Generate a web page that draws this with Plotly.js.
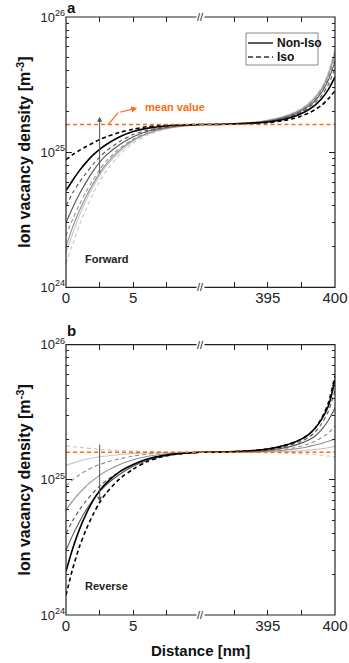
<!DOCTYPE html>
<html>
<head>
<meta charset="utf-8">
<script src="https://cdn.plot.ly/plotly-3.0.1.min.js"></script>
<style>
  html, body { margin: 0; padding: 0; background: #fff; }
  #plot { width: 349px; height: 663px; }
</style>
</head>
<body>
<div id="plot"></div>
<script>
// distance samples [nm] on both sides of the axis break
const xLeft = [0, 0.5, 1, 1.5, 2, 2.5, 3, 4, 5, 6, 7, 8, 10];
const xRight = [390, 392, 394, 395, 396, 397, 397.5, 398, 398.5, 399, 399.5, 400];

// all densities below in units of 10^25 m^-3
const meanValue = 1.6;

// (a) forward, left side
const fwdBlackIsoL    = [0.88, 0.96, 1.03, 1.10, 1.17, 1.24, 1.30, 1.40, 1.48, 1.54, 1.57, 1.59, 1.6];
const fwdBlackNonL    = [0.52, 0.62, 0.73, 0.84, 0.95, 1.05, 1.14, 1.30, 1.42, 1.50, 1.55, 1.58, 1.6];
const fwdDarkIsoL     = [0.40, 0.50, 0.60, 0.70, 0.81, 0.92, 1.02, 1.20, 1.35, 1.45, 1.52, 1.56, 1.6];
const fwdDarkNonL     = [0.30, 0.39, 0.49, 0.60, 0.72, 0.84, 0.95, 1.14, 1.30, 1.42, 1.50, 1.55, 1.6];
const fwdMidIsoL      = [0.24, 0.32, 0.41, 0.51, 0.62, 0.74, 0.86, 1.07, 1.25, 1.39, 1.48, 1.54, 1.6];
const fwdMidNonL      = [0.20, 0.28, 0.37, 0.47, 0.58, 0.70, 0.82, 1.04, 1.23, 1.37, 1.47, 1.53, 1.6];
const fwdLightNonL    = [0.18, 0.25, 0.34, 0.44, 0.55, 0.67, 0.79, 1.01, 1.21, 1.36, 1.46, 1.53, 1.6];
const fwdLightIsoL    = [0.15, 0.21, 0.29, 0.38, 0.49, 0.61, 0.73, 0.96, 1.17, 1.33, 1.44, 1.52, 1.6];

// (a) forward, right side
const fwdBlackIsoR    = [1.6, 1.61, 1.63, 1.65, 1.70, 1.78, 1.85, 1.94, 2.06, 2.22, 2.48, 2.85];
const fwdBlackNonR    = [1.6, 1.61, 1.64, 1.67, 1.73, 1.84, 1.93, 2.05, 2.22, 2.48, 2.90, 3.6];
const fwdDarkIsoR     = [1.6, 1.61, 1.64, 1.68, 1.75, 1.88, 1.98, 2.12, 2.32, 2.62, 3.15, 4.2];
const fwdDarkNonR     = [1.6, 1.61, 1.65, 1.69, 1.77, 1.91, 2.02, 2.17, 2.40, 2.75, 3.40, 4.7];
const fwdMidIsoR      = [1.6, 1.61, 1.65, 1.70, 1.78, 1.93, 2.05, 2.21, 2.45, 2.83, 3.55, 5.1];
const fwdMidNonR      = [1.6, 1.61, 1.66, 1.71, 1.80, 1.95, 2.07, 2.24, 2.50, 2.90, 3.70, 5.4];
const fwdLightNonR    = [1.6, 1.62, 1.66, 1.72, 1.81, 1.97, 2.09, 2.27, 2.54, 2.96, 3.80, 5.7];
const fwdLightIsoR    = [1.6, 1.62, 1.67, 1.73, 1.82, 1.98, 2.11, 2.30, 2.58, 3.02, 3.90, 5.9];

// (b) reverse, left side
const revLightIsoL    = [1.78, 1.76, 1.74, 1.72, 1.70, 1.68, 1.67, 1.65, 1.63, 1.62, 1.61, 1.6, 1.6];
const revLightNonL    = [1.28, 1.33, 1.38, 1.42, 1.45, 1.48, 1.50, 1.54, 1.57, 1.58, 1.59, 1.6, 1.6];
const revMidIsoL      = [0.90, 1.00, 1.09, 1.17, 1.24, 1.30, 1.35, 1.43, 1.50, 1.55, 1.58, 1.59, 1.6];
const revMidNonL      = [0.60, 0.70, 0.80, 0.90, 0.99, 1.08, 1.16, 1.30, 1.41, 1.49, 1.54, 1.57, 1.6];
const revDarkIsoL     = [0.40, 0.50, 0.60, 0.70, 0.80, 0.90, 0.99, 1.15, 1.30, 1.42, 1.50, 1.55, 1.6];
const revDarkNonL     = [0.30, 0.39, 0.49, 0.60, 0.71, 0.82, 0.92, 1.10, 1.26, 1.39, 1.48, 1.54, 1.6];
const revBlackNonL    = [0.21, 0.31, 0.43, 0.56, 0.70, 0.83, 0.95, 1.15, 1.30, 1.42, 1.50, 1.55, 1.6];
const revBlackIsoL    = [0.14, 0.22, 0.32, 0.43, 0.55, 0.68, 0.80, 1.02, 1.20, 1.36, 1.47, 1.54, 1.6];

// (b) reverse, right side
const revLightIsoR    = [1.6, 1.6, 1.6, 1.59, 1.58, 1.57, 1.56, 1.55, 1.54, 1.52, 1.50, 1.48];
const revLightNonR    = [1.6, 1.6, 1.6, 1.61, 1.62, 1.63, 1.64, 1.66, 1.68, 1.70, 1.73, 1.77];
const revMidIsoR      = [1.6, 1.6, 1.62, 1.64, 1.67, 1.73, 1.78, 1.84, 1.93, 2.05, 2.22, 2.5];
const revMidNonR      = [1.6, 1.6, 1.61, 1.63, 1.65, 1.69, 1.72, 1.76, 1.81, 1.86, 1.93, 2.0];
const revDarkIsoR     = [1.6, 1.61, 1.64, 1.67, 1.74, 1.85, 1.93, 2.05, 2.25, 2.60, 3.20, 4.6];
const revDarkNonR     = [1.6, 1.61, 1.63, 1.66, 1.71, 1.80, 1.87, 1.96, 2.10, 2.35, 2.75, 3.4];
const revBlackNonR    = [1.6, 1.61, 1.65, 1.69, 1.77, 1.90, 2.00, 2.15, 2.40, 2.80, 3.50, 5.5];
const revBlackIsoR    = [1.6, 1.61, 1.65, 1.69, 1.77, 1.90, 2.00, 2.15, 2.40, 2.85, 3.70, 5.9];

const legendNames = ['Non-Iso', 'Iso'];

const UNIT = 1e25;
const ORANGE = '#ff6a13';
const FONT = 'Arial, "Liberation Sans", sans-serif';
const shade = { black: '#000000', dark: '#555555', mid: '#8f8f8f', light: '#c6c6c6' };
const ISO_DASH = '4px,3px';

// [left, right, colour, iso?]
const fwdCurves = [
  [fwdLightIsoL, fwdLightIsoR, shade.light, true],
  [fwdLightNonL, fwdLightNonR, shade.light, false],
  [fwdMidNonL, fwdMidNonR, shade.mid, false],
  [fwdMidIsoL, fwdMidIsoR, shade.mid, true],
  [fwdDarkNonL, fwdDarkNonR, shade.dark, false],
  [fwdDarkIsoL, fwdDarkIsoR, shade.dark, true],
  [fwdBlackNonL, fwdBlackNonR, shade.black, false],
  [fwdBlackIsoL, fwdBlackIsoR, shade.black, true]
];
const revCurves = [
  [revLightIsoL, revLightIsoR, shade.light, true],
  [revLightNonL, revLightNonR, shade.light, false],
  [revMidIsoL, revMidIsoR, shade.mid, true],
  [revMidNonL, revMidNonR, shade.mid, false],
  [revDarkIsoL, revDarkIsoR, shade.dark, true],
  [revDarkNonL, revDarkNonR, shade.dark, false],
  [revBlackNonL, revBlackNonR, shade.black, false],
  [revBlackIsoL, revBlackIsoR, shade.black, true]
];

const traces = [];

function addCurves (curves, xl, xr, ya) {
  curves.forEach(([left, right, color, iso]) => {
    const line = {
      color,
      width: color === shade.black ? 1.6 : 1.1,
      dash: iso ? ISO_DASH : 'solid',
      shape: 'spline',
      smoothing: 0.8
    };
    traces.push({ type: 'scatter', mode: 'lines', x: xLeft, y: left.map(v => v * UNIT), xaxis: xl, yaxis: ya, line, showlegend: false });
    traces.push({ type: 'scatter', mode: 'lines', x: xRight, y: right.map(v => v * UNIT), xaxis: xr, yaxis: ya, line, showlegend: false });
  });
  // mean value line across both segments
  const meanLine = { color: ORANGE, width: 1.5, dash: '4px,3px' };
  traces.push({ type: 'scatter', mode: 'lines', x: [0, 10], y: [meanValue * UNIT, meanValue * UNIT], xaxis: xl, yaxis: ya, line: meanLine, showlegend: false });
  traces.push({ type: 'scatter', mode: 'lines', x: [390, 400], y: [meanValue * UNIT, meanValue * UNIT], xaxis: xr, yaxis: ya, line: meanLine, showlegend: false });
}

addCurves(fwdCurves, 'x', 'x2', 'y');
addCurves(revCurves, 'x3', 'x4', 'y3');

// keep the right-hand tick axes alive
traces.push({ type: 'scatter', mode: 'lines', x: [null], y: [null], xaxis: 'x2', yaxis: 'y2', showlegend: false });
traces.push({ type: 'scatter', mode: 'lines', x: [null], y: [null], xaxis: 'x4', yaxis: 'y4', showlegend: false });

const majorVals = [1e24, 1e25, 1e26];
const majorText = ['10<sup>24</sup>', '10<sup>25</sup>', '10<sup>26</sup>'];
const minorVals = [];
[1e24, 1e25].forEach(d => { for (let k = 2; k <= 9; k++) minorVals.push(k * d); });

function yAxis (domain, anchor, extra) {
  return Object.assign({
    type: 'log',
    domain,
    anchor,
    range: [24, 26],
    tickvals: majorVals,
    ticktext: majorText,
    ticks: 'inside',
    ticklen: 6,
    tickcolor: '#222',
    tickfont: { family: FONT, size: 13, color: '#222' },
    minor: { tickvals: minorVals, ticks: 'inside', ticklen: 3, tickcolor: '#222' },
    title: {
      text: '<b>Ion vacancy density [m<sup>-3</sup>]</b>',
      font: { family: FONT, size: 16, color: '#111' },
      standoff: 5
    },
    showgrid: false,
    zeroline: false,
    showline: false,
    fixedrange: true
  }, extra || {});
}

function xAxis (domain, anchor, range, vals, text) {
  return {
    domain,
    anchor,
    range,
    tickvals: vals,
    ticktext: text,
    ticks: 'inside',
    ticklen: 5,
    tickcolor: '#222',
    mirror: 'ticks',
    tickfont: { family: FONT, size: 15, color: '#222' },
    showgrid: false,
    zeroline: false,
    showline: false,
    fixedrange: true
  };
}

const leftTicks = [0, 2.5, 5, 7.5];
const leftText = ['0', '', '5', ''];
const rightTicks = [392.5, 395, 397.5, 400];
const rightText = ['', '395', '', '400'];

const domA = [0.548, 1];
const domB = [0, 0.452];

const dom = v => (Math.log10(v) - 24) / 2; // position on a log panel, as domain fraction
const W = 269, TOP = 17, PH = 598;
const px = p => (p - 66) / W;             // page pixel -> paper x
const py = p => (TOP + PH - p) / PH;      // page pixel -> paper y

const annotations = [];
const shapes = [];

[['y', domA, 'a', 'Forward'], ['y3', domB, 'b', 'Reverse']].forEach(([ya, d, label, mode], i) => {
  const xl = i === 0 ? 'x' : 'x3';
  // frame
  shapes.push({ type: 'rect', xref: 'paper', yref: 'paper', x0: 0, x1: 1, y0: d[0], y1: d[1], line: { color: '#222', width: 1.2 } });
  // break marks
  [0, 1].forEach(yy => annotations.push({
    xref: 'paper', yref: ya + ' domain', x: 0.5, y: yy, xanchor: 'center', yanchor: 'middle',
    text: '//', showarrow: false,
    font: { family: FONT, size: 11, color: '#222' }, bgcolor: '#fff', borderpad: 0
  }));
  // panel letter
  annotations.push({
    xref: 'paper', yref: 'paper', x: 0, y: d[1] + (i === 0 ? 0 : 0.008), xanchor: 'left', yanchor: 'bottom',
    text: '<b>' + label + '</b>', showarrow: false, font: { family: FONT, size: 15, color: '#111' }, borderpad: 0
  });
  // sweep label
  annotations.push({
    xref: xl, yref: ya + ' domain', x: 1.27, y: 0.076, xanchor: 'left',
    text: '<b>' + mode + '</b>', showarrow: false, font: { family: FONT, size: 11, color: '#222' }
  });
});

// hand-drawn legend box in panel a
shapes.push({ type: 'rect', xref: 'paper', yref: 'paper', x0: px(246), x1: px(318), y0: py(65), y1: py(33), line: { color: '#888', width: 1 }, fillcolor: '#fff' });
shapes.push({ type: 'line', xref: 'paper', yref: 'paper', x0: px(248), x1: px(273), y0: py(43), y1: py(43), line: { color: '#333', width: 1.6 } });
shapes.push({ type: 'line', xref: 'paper', yref: 'paper', x0: px(248), x1: px(273), y0: py(57), y1: py(57), line: { color: '#333', width: 1.6, dash: '5px,3px' } });
[[43, legendNames[0]], [57, legendNames[1]]].forEach(([yy, t]) => annotations.push({
  xref: 'paper', yref: 'paper', x: px(275), y: py(yy), xanchor: 'left', yanchor: 'middle',
  text: '<b>' + t + '</b>', showarrow: false, font: { family: FONT, size: 12, color: '#111' }
}));

// trend arrows
annotations.push({
  xref: 'x', yref: 'y domain', axref: 'x', ayref: 'y domain',
  x: 2.5, y: dom(1.83e25), ax: 2.5, ay: dom(6.8e24), text: '',
  showarrow: true, arrowhead: 2, arrowsize: 1, arrowwidth: 1, arrowcolor: '#555'
});
annotations.push({
  xref: 'x3', yref: 'y3 domain', axref: 'x3', ayref: 'y3 domain',
  x: 2.5, y: dom(6.9e24), ax: 2.5, ay: dom(1.87e25), text: '',
  showarrow: true, arrowhead: 2, arrowsize: 1, arrowwidth: 1, arrowcolor: '#555'
});

// mean value call-out
shapes.push({
  type: 'line', xref: 'x', yref: 'y domain',
  x0: 3.13, y0: dom(meanValue * UNIT), x1: 3.88, y1: dom(1.96e25),
  line: { color: ORANGE, width: 1.2 }
});
annotations.push({
  xref: 'x', yref: 'y domain', axref: 'x', ayref: 'y domain',
  x: 5.3, y: dom(2.12e25), ax: 3.88, ay: dom(1.96e25), text: '',
  showarrow: true, arrowhead: 2, arrowsize: 1, arrowwidth: 1.2, arrowcolor: ORANGE
});
annotations.push({
  xref: 'x', yref: 'y domain', x: 5.75, y: dom(2.14e25), xanchor: 'left', yanchor: 'middle',
  text: '<b>mean value</b>', showarrow: false, font: { family: FONT, size: 11, color: ORANGE }
});

// x title
annotations.push({
  xref: 'paper', yref: 'paper', x: 0.5, y: py(650), yanchor: 'middle',
  text: '<b>Distance [nm]</b>', showarrow: false, font: { family: FONT, size: 15, color: '#111' }
});

const layout = {
  width: 349,
  height: 663,
  margin: { l: 66, r: 14, t: TOP, b: 48 },
  paper_bgcolor: '#fff',
  plot_bgcolor: 'rgba(0,0,0,0)',
  font: { family: FONT, color: '#222' },
  hovermode: false,
  showlegend: false,
  xaxis: xAxis([0, 0.5], 'y', [0, 10], leftTicks, leftText),
  xaxis2: xAxis([0.5, 1], 'y', [390, 400], rightTicks, rightText),
  xaxis3: xAxis([0, 0.5], 'y3', [0, 10], leftTicks, leftText),
  xaxis4: xAxis([0.5, 1], 'y3', [390, 400], rightTicks, rightText),
  yaxis: yAxis(domA, 'x'),
  yaxis2: yAxis(domA, 'x2', { overlaying: 'y', side: 'right', showticklabels: false, title: { text: '' } }),
  yaxis3: yAxis(domB, 'x3'),
  yaxis4: yAxis(domB, 'x4', { overlaying: 'y3', side: 'right', showticklabels: false, title: { text: '' } }),
  shapes,
  annotations
};

Plotly.newPlot('plot', traces, layout, { staticPlot: true, displayModeBar: false });
</script>
</body>
</html>
